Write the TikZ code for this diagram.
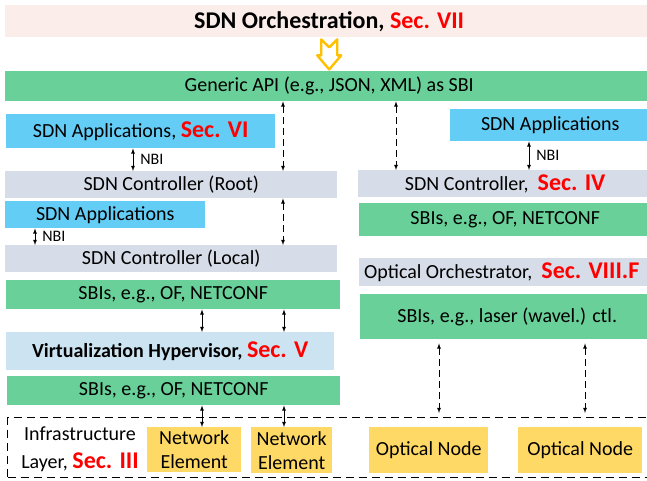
\documentclass[tikz,border=0pt]{standalone}
\usepackage{fontspec}
\setmainfont{Carlito}
\definecolor{orchpink}{RGB}{251,238,234}
\definecolor{sbigreen}{RGB}{104,208,152}
\definecolor{appblue}{RGB}{99,205,245}
\definecolor{ctlgray}{RGB}{214,221,232}
\definecolor{hypblue}{RGB}{204,228,242}
\definecolor{nodeyellow}{RGB}{255,217,102}
\definecolor{arrowgold}{RGB}{255,192,0}
\newcommand\redsec[1]{{\fontsize{24}{28}\selectfont\bfseries\color{red}#1}}
\tikzset{
    layer/.style={rectangle, inner sep=0pt, anchor=north west, align=center,
        font=\fontsize{20}{24}\selectfont},
    elem/.style={layer, fill=nodeyellow},
    link/.style={line width=0.8pt, latex-latex},
    dlink/.style={link, dash pattern=on 7pt off 4pt},
    nbi/.style={anchor=west, xshift=6pt, inner sep=1pt, font=\fontsize{16}{18}\selectfont},
    hollow/.style={draw=arrowgold, fill=white, line width=2.4pt, line join=round},
}
\begin{document}
\begin{tikzpicture}[x=1pt,y=-1pt]
    \useasboundingbox (0,0) rectangle (647,481);
    %% orchestration
    \node[layer, fill=orchpink, minimum width=648pt, minimum height=32pt,
        font=\fontsize{24}{28}\selectfont\bfseries] (orch) at (5,5) {SDN Orchestration, \redsec{Sec. VII}};
    \node[layer, fill=sbigreen, minimum width=648pt, minimum height=30pt] (api) at (5,71)
        {Generic API (e.g., JSON, XML) as SBI};
    \draw[hollow] ([shift={(-8,2)}]orch.south) -- ++(8,8) -- ++(8,-8) -- ++(0,16) -- ++(4,0)
        -- ++(-12,14) -- ++(-12,-14) -- ++(4,0) -- cycle;
    %% left stack
    \node[layer, fill=appblue, minimum width=269pt, minimum height=34pt] (appsvi) at (6,114)
        {SDN Applications, \redsec{Sec. VI}};
    \node[layer, fill=ctlgray, minimum width=332pt, minimum height=27pt] (root) at (5,171) {SDN Controller (Root)};
    \node[layer, fill=appblue, minimum width=200pt, minimum height=27pt] (appsloc) at (5,201) {SDN Applications};
    \node[layer, fill=ctlgray, minimum width=332pt, minimum height=27pt] (local) at (5,245) {SDN Controller (Local)};
    \node[layer, fill=sbigreen, minimum width=334pt, minimum height=29pt] (sbia) at (6,280) {SBIs, e.g., OF, NETCONF};
    \node[layer, fill=hypblue, minimum width=328pt, minimum height=38pt,
        font=\fontsize{20}{24}\selectfont\bfseries] (hyper) at (6,332) {Virtualization Hypervisor, \redsec{Sec. V}};
    \node[layer, fill=sbigreen, minimum width=333pt, minimum height=29pt] (sbib) at (7,376) {SBIs, e.g., OF, NETCONF};
    %% right stack
    \node[layer, fill=appblue, minimum width=200pt, minimum height=32pt] (appsr) at (450,109) {SDN Applications};
    \node[layer, fill=ctlgray, minimum width=294pt, minimum height=27pt] (ctlr) at (358,170)
        {SDN Controller,\ \ \redsec{Sec. IV}};
    \node[layer, fill=sbigreen, minimum width=292pt, minimum height=33pt] (sbir) at (359,203) {SBIs, e.g., OF, NETCONF};
    \node[layer, fill=ctlgray, minimum width=341pt, minimum height=28pt, inner xsep=5pt] (oorch) at (359,258)
        {\makebox[331pt][l]{Optical Orchestrator,\ \ \redsec{Sec. VIII.F}}};
    \node[layer, fill=sbigreen, minimum width=294pt, minimum height=45pt] (sbil) at (360,294)
        {SBIs, e.g., laser (wavel.) ctl.};
    %% infrastructure
    \node[layer, draw, line width=1pt, dash pattern=on 8pt off 5pt, minimum width=653pt,
        minimum height=60pt] (infra) at (7,417) {};
    \node[align=center, font=\fontsize{20}{28}\selectfont] (infratxt) at (80,449)
        {Infrastructure\\Layer, \redsec{Sec. III}};
    \node[elem, minimum width=94pt, minimum height=45pt] (ne1) at (147,427) {Network\\Element};
    \node[elem, minimum width=81pt, minimum height=46pt] (ne2) at (251,427) {Network\\Element};
    \node[elem, minimum width=119pt, minimum height=46pt] (on1) at (369,427) {Optical Node};
    \node[elem, minimum width=124pt, minimum height=46pt] (on2) at (518,427) {Optical Node};
    %% columns
    \coordinate (c1) at (283,0);
    \coordinate (c2) at (396,0);
    \coordinate (c3) at (202,0);
    \coordinate (c4) at (284,0);
    \coordinate (c5) at (439,0);
    \coordinate (c6) at (585,0);
    \coordinate (n1) at (133,0);
    \coordinate (n2) at (35,0);
    \coordinate (n3) at (529,0);
    %% interfaces
    \draw[dlink] (api.south -| c1) -- (root.north -| c1);
    \draw[dlink] (root.south -| c1) -- (local.north -| c1);
    \draw[dlink] (api.south -| c2) -- (ctlr.north -| c2);
    \foreach \c in {c5,c6}
        \draw[dlink, shorten <=4pt, shorten >=4pt] (sbil.south -| \c) -- (infra.north -| \c);
    \draw[link] (appsvi.south -| n1) -- node[nbi] {NBI} (root.north -| n1);
    \draw[link] (appsloc.south -| n2) -- node[nbi] {NBI} (local.north -| n2);
    \draw[link] (appsr.south -| n3) -- node[nbi] {NBI} (ctlr.north -| n3);
    \foreach \c/\n in {c3/ne1,c4/ne2} {
        \draw[link] (sbia.south -| \c) -- (hyper.north -| \c);
        \draw[link] (sbib.south -| \c) -- (\n.north -| \c);
    }
\end{tikzpicture}
\end{document}
